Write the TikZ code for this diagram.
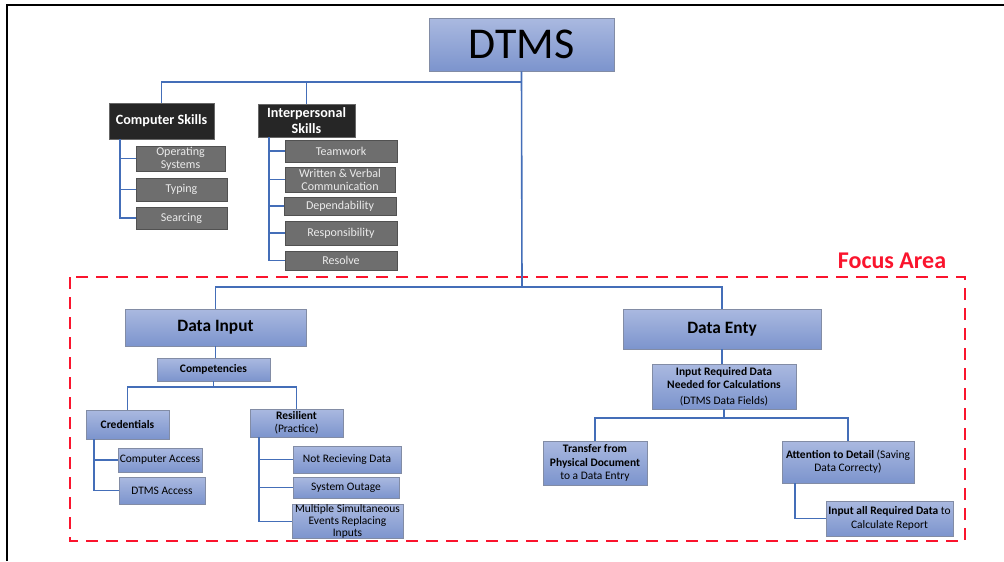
\documentclass[tikz,border=0pt]{standalone}
\usepackage{fontspec}
\setmainfont{Carlito}

\definecolor{boxtop}{RGB}{170,185,224}
\definecolor{boxbot}{RGB}{124,148,205}
\definecolor{boxline}{RGB}{130,140,165}
\definecolor{linkblue}{RGB}{68,110,184}
\definecolor{darkbox}{RGB}{38,38,38}
\definecolor{graybox}{RGB}{110,110,110}
\definecolor{focusred}{RGB}{250,20,45}

\tikzset{
  wh/.style 2 args={minimum width=#1*0.75pt, minimum height=#2*0.75pt},
  bluebox/.style={draw=boxline, top color=boxtop, bottom color=boxbot,
    inner sep=0pt, align=center, text=black},
  skillhead/.style={draw=darkbox!70, fill=darkbox, inner sep=0pt, align=center,
    text=white, font=\fontsize{10.6}{11.5}\selectfont\bfseries},
  skillitem/.style={draw=darkbox!80, fill=graybox, inner sep=0pt, align=center,
    text=white!92!black, font=\fontsize{9}{9.8}\selectfont},
  small/.style={font=\fontsize{8.6}{10}\selectfont},
  big/.style={font=\fontsize{13}{14}\selectfont\bfseries},
  link/.style={draw=linkblue, line width=1.2pt},
}

\begin{document}
\begin{tikzpicture}[x=0.75pt,y=-0.75pt]
  \useasboundingbox (0,0) rectangle (1004,561);

  % Draw the page frame
  \draw[line width=1.6pt] (7,561) -- (7,5) -- (1004,5);

  % Draw the focus area
  \draw[focusred, line width=2.2pt, dash pattern=on 9pt off 6pt] (70,277) rectangle (965,541);
  \node[text=focusred, font=\fontsize{18}{19}\selectfont\bfseries] (focus) at (892,261) {Focus Area};

  % Draw the top node
  \node[bluebox, wh={185}{53}, font=\fontsize{33}{35}\selectfont] (dtms) at (521.5,44.5) {DTMS};

  % Draw the skill boxes
  \node[skillhead, wh={105}{36}] (cs) at (161.5,121) {Computer Skills};
  \node[skillhead, wh={97}{33}] (ip) at (306.5,120.5) {Interpersonal\\Skills};

  \node[skillitem, wh={89}{25}] (os) at (180.5,158.5) {Operating\\Systems};
  \node[skillitem, wh={91}{23}] (typ) at (181.5,189.5) {Typing};
  \node[skillitem, wh={91}{22}] (sea) at (181.5,218) {Searcing};

  \node[skillitem, wh={112}{22}] (team) at (341,151) {Teamwork};
  \node[skillitem, wh={110}{25}] (wvc) at (340,179.5) {Written \& Verbal\\Communication};
  \node[skillitem, wh={112}{18}] (dep) at (340,206) {Dependability};
  \node[skillitem, wh={112}{24}] (resp) at (341,233) {Responsibility};
  \node[skillitem, wh={112}{19}] (res) at (341,260.5) {Resolve};

  % Draw the data input branch
  \node[bluebox, big, wh={181}{37}] (di) at (215.5,327.5) {Data Input};
  \node[bluebox, small, wh={113}{23}] (comp) at (213.5,369.5) {\bfseries Competencies};
  \node[bluebox, small, wh={83}{29}] (cred) at (127.5,424.5) {\bfseries Credentials};
  \node[bluebox, small, wh={93}{28}] (resil) at (296.5,423) {\textbf{Resilient}\\(Practice)};

  \node[bluebox, small, wh={84}{24}] (ca) at (160,460) {Computer Access};
  \node[bluebox, small, wh={86}{27}] (da) at (162,490.5) {DTMS Access};

  \node[bluebox, small, wh={108}{27}] (nrd) at (347,459.5) {Not Recieving Data};
  \node[bluebox, small, wh={106}{21}] (so) at (346,487.5) {System Outage};
  \node[bluebox, small, wh={111}{33}, font=\fontsize{8.6}{9.2}\selectfont] (mse) at (347.5,521.5) {Multiple Simultaneous\\Events Replacing\\Inputs};

  % Draw the data entry branch
  \node[bluebox, big, wh={198}{40}] (de) at (722,329) {Data Enty};
  \node[bluebox, small, wh={144}{45}] (ird) at (724,386.5) {\textbf{Input Required Data}\\\textbf{Needed for Calculations}\\[2pt](DTMS Data Fields)};
  \node[bluebox, small, wh={104}{44}] (tf) at (595,463) {\textbf{Transfer from}\\\textbf{Physical Document}\\to a Data Entry};
  \node[bluebox, small, wh={132}{42}] (att) at (848,462) {\textbf{Attention to Detail} (Saving\\Data Correcty)};
  \node[bluebox, small, wh={127}{35}] (iar) at (889.5,518.5) {\textbf{Input all Required Data} to\\Calculate Report};

  % Draw the connectors
  \coordinate (top) at (522,82);
  \coordinate (mid) at (522,287);
  \draw[link] (dtms.south) -- (mid);
  \draw[link] (cs.north) |- (top);
  \draw[link] (ip.north) -- (ip.north |- top);
  \draw[link] (di.north) |- (mid) -| (de.north);

  \draw[link] (cs.south west) ++(11,0) |- (os.west);
  \draw[link] (cs.south west) ++(11,0) |- (typ.west);
  \draw[link] (cs.south west) ++(11,0) |- (sea.west);
  \foreach \n in {team,wvc,dep,resp,res}
    \draw[link] (ip.south west) ++(11,0) |- (\n.west);

  \coordinate (compj) at (213.5,387);
  \draw[link] (di.south) -- (di.south |- comp.north);
  \draw[link] (comp.south) -- (compj);
  \draw[link] (cred.north) |- (compj) -| (resil.north);
  \draw[link] (cred.south west) ++(8,0) |- (ca.west);
  \draw[link] (cred.south west) ++(8,0) |- (da.west);
  \foreach \n in {nrd,so,mse}
    \draw[link] (resil.south west) ++(9,0) |- (\n.west);

  \coordinate (irdj) at (724,418);
  \draw[link] (de.south) -- (de.south |- ird.north);
  \draw[link] (ird.south) -- (irdj);
  \draw[link] (tf.north) |- (irdj) -| (att.north);
  \draw[link] (att.south west) ++(13,0) |- (iar.west);
\end{tikzpicture}
\end{document}
